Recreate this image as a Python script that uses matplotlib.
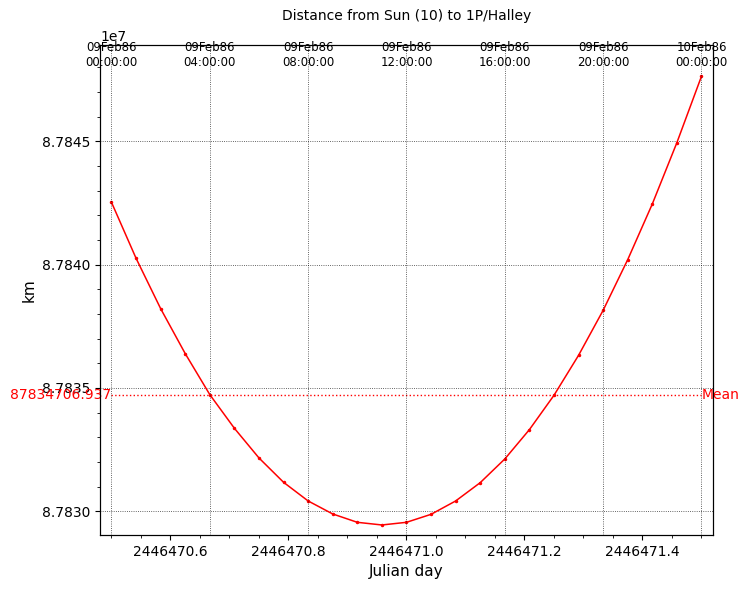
#!/usr/bin/env python3
import numpy as np
import matplotlib
matplotlib.use("Agg")
import matplotlib.pyplot as plt
from matplotlib.ticker import MultipleLocator

# ===================== DATA =====================
TITLE = "Distance from Sun (10) to 1P/Halley"

# hourly samples, 09Feb86 00:00 .. 10Feb86 00:00 (Julian day)
JD_START = 2446470.5
hours = np.arange(0, 25)

# distance in km
distance_km = [
    87842527, 87840257, 87838216, 87836392, 87834730,
    87833365, 87832162, 87831176, 87830419, 87829892,
    87829554, 87829446, 87829554, 87829878, 87830419,
    87831162, 87832122, 87833311, 87834703, 87836324,
    87838149, 87840203, 87842459, 87844946, 87847635,
]

MEAN_KM = 87834706.937

# top axis (calendar) ticks every 4 hours
top_tick_hours = [0, 4, 8, 12, 16, 20, 24]
top_tick_labels = [
    "09Feb86\n00:00:00", "09Feb86\n04:00:00", "09Feb86\n08:00:00",
    "09Feb86\n12:00:00", "09Feb86\n16:00:00", "09Feb86\n20:00:00",
    "10Feb86\n00:00:00",
]
# ===============================================


def main():
    jd = JD_START + hours / 24.0
    y = np.asarray(distance_km, dtype=float)

    fig = plt.figure(figsize=(7.49, 5.89), dpi=100)
    ax = fig.add_axes([0.1335, 0.0917, 0.8184, 0.8319])

    ax.plot(jd, y, color="red", linewidth=1.1, marker="o", markersize=1.5)
    ax.hlines(MEAN_KM, jd[0], jd[-1], colors="red", linestyles=":", linewidth=1.0)
    ax.text(jd[0], MEAN_KM, f"{MEAN_KM:.3f}", color="red", ha="right", va="center", fontsize=10)
    ax.text(jd[-1], MEAN_KM, "Mean", color="red", ha="left", va="center", fontsize=10)

    span = jd[-1] - jd[0]
    xlim = (jd[0] - 0.0195 * span, jd[-1] + 0.0195 * span)
    ax.set_xlim(*xlim)
    ax.set_ylim(87829040, 87848905)

    ax.xaxis.set_major_locator(MultipleLocator(0.2))
    ax.xaxis.set_minor_locator(MultipleLocator(0.05))
    ax.yaxis.set_major_locator(MultipleLocator(5000))
    ax.yaxis.set_minor_locator(MultipleLocator(1000))
    ax.ticklabel_format(axis="x", useOffset=False, style="plain")
    ax.ticklabel_format(axis="y", useOffset=False, style="sci", scilimits=(0, 0))
    ax.grid(True, axis="y", linestyle=":", color="black", linewidth=0.6, alpha=0.8)

    ax.set_xlabel("Julian day", fontsize=11)
    ax.set_ylabel("km", fontsize=11)

    # calendar axis on top
    ax2 = ax.twiny()
    ax2.set_xlim(*xlim)
    ax2.set_xticks([JD_START + h / 24.0 for h in top_tick_hours])
    ax2.set_xticklabels(top_tick_labels, fontsize=8.5)
    ax2.tick_params(axis="x", length=0, pad=-17.5)
    ax2.grid(True, axis="x", linestyle=":", color="black", linewidth=0.6, alpha=0.8)

    fig.text(0.5427, 1 - 16 / 589, TITLE, fontsize=10, ha="center", va="center")

    fig.savefig("out.png", dpi=100)


if __name__ == "__main__":
    main()
